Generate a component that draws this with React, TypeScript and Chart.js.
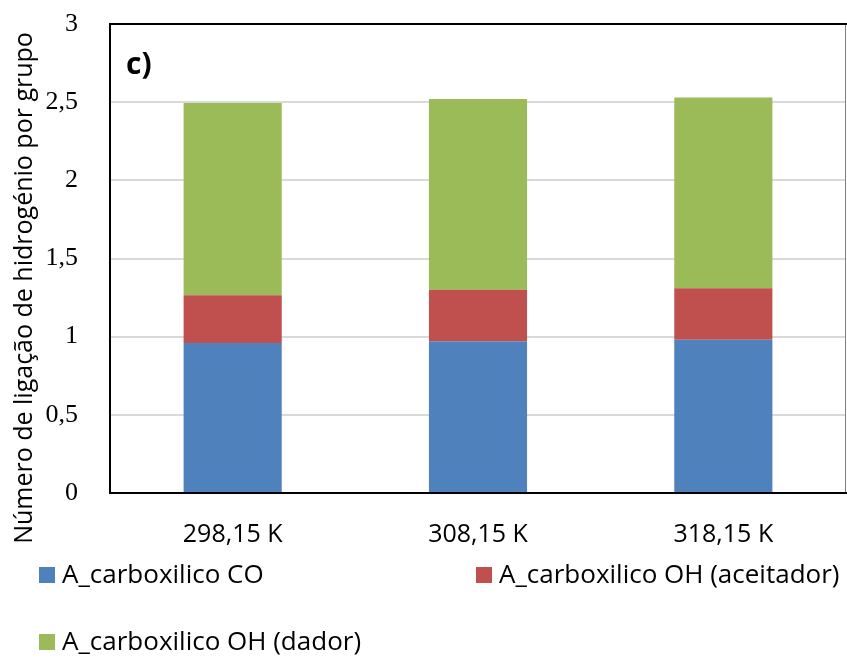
import React, { useEffect, useRef } from "react";
import { Chart, registerables } from "chart.js";

Chart.register(...registerables);

const categories = ["298,15 K", "308,15 K", "318,15 K"];
const seriesNames = [
  "A_carboxilico CO",
  "A_carboxilico OH (aceitador)",
  "A_carboxilico OH (dador)",
];
const coValues = [0.96, 0.97, 0.98];
const ohAceitadorValues = [0.305, 0.33, 0.33];
const ohDadorValues = [1.23, 1.22, 1.22];
const seriesColors = ["#4F81BD", "#C0504D", "#9BBB59"];
const yTickLabels = ["0", "0,5", "1", "1,5", "2", "2,5", "3"];
const yTitle = "Número de ligação de hidrogénio por grupo";
const panelLabel = "c)";

const SANS = "'Open Sans', 'Noto Sans', sans-serif";
const SERIF = "'Liberation Serif', 'DejaVu Serif', serif";

const overlayPlugin = {
  id: "overlay",
  afterDraw(chart: any) {
    const { ctx, chartArea } = chart;
    const { left, right, top, bottom } = chartArea;
    ctx.save();
    // frame
    ctx.lineCap = "square";
    ctx.strokeStyle = "#7f7f7f";
    ctx.lineWidth = 1;
    ctx.beginPath();
    ctx.moveTo(right - 0.5, top);
    ctx.lineTo(right - 0.5, bottom);
    ctx.stroke();
    ctx.strokeStyle = "#000";
    ctx.lineWidth = 2;
    ctx.beginPath();
    ctx.moveTo(left, top);
    ctx.lineTo(right, top);
    ctx.moveTo(left, top);
    ctx.lineTo(left, bottom);
    ctx.lineTo(right, bottom);
    ctx.stroke();

    // panel label
    ctx.fillStyle = "#000";
    ctx.font = `bold 30px ${SANS}`;
    ctx.textAlign = "left";
    ctx.textBaseline = "middle";
    ctx.fillText(panelLabel, left + 16, top + 41);

    // y title
    ctx.save();
    ctx.translate(32, 288);
    ctx.rotate(-Math.PI / 2);
    ctx.font = `25px ${SANS}`;
    ctx.textAlign = "center";
    ctx.textBaseline = "alphabetic";
    ctx.fillText(yTitle, 0, 0);
    ctx.restore();

    // legend
    const items = chart.data.datasets.map((d: any) => ({
      label: d.label,
      color: d.backgroundColor,
    }));
    const pos = [
      { x: 39, y: 575 },
      { x: 476, y: 575 },
      { x: 39, y: 642 },
    ];
    ctx.font = `26px ${SANS}`;
    ctx.textBaseline = "middle";
    ctx.textAlign = "left";
    items.forEach((it: any, i: number) => {
      const p = pos[i];
      ctx.fillStyle = it.color;
      ctx.fillRect(p.x, p.y - 8, 16, 16);
      ctx.fillStyle = "#000";
      ctx.fillText(it.label, p.x + 23, p.y + 1);
    });
    ctx.restore();
  },
};

export default function App() {
  const ref = useRef<HTMLCanvasElement | null>(null);
  useEffect(() => {
    document.body.style.margin = "0";
    const canvas = ref.current!;
    const chart = new Chart(canvas, {
      type: "bar",
      data: {
        labels: categories,
        datasets: [
          { label: seriesNames[0], data: coValues, backgroundColor: seriesColors[0] },
          { label: seriesNames[1], data: ohAceitadorValues, backgroundColor: seriesColors[1] },
          { label: seriesNames[2], data: ohDadorValues, backgroundColor: seriesColors[2] },
        ],
      },
      options: {
        animation: false,
        responsive: false,
        maintainAspectRatio: false,
        layout: { padding: { top: 24, right: 1, bottom: 0, left: 0 } },
        datasets: {
          bar: { barPercentage: 0.4, categoryPercentage: 1, borderWidth: 0 },
        },
        plugins: {
          legend: { display: false },
          tooltip: { enabled: false },
          title: { display: false },
        },
        scales: {
          x: {
            stacked: true,
            grid: { display: false, drawTicks: false },
            border: { display: false },
            ticks: {
              color: "#000",
              padding: 27,
              font: { family: SANS, size: 25, lineHeight: 1.2 },
            },
            afterFit: (s: any) => {
              s.height = 167;
              s.paddingLeft = 0;
              s.paddingRight = 0;
            },
          },
          y: {
            stacked: true,
            min: 0,
            max: 3,
            grid: { color: "#d9d9d9", lineWidth: 2, drawTicks: false },
            border: { display: false },
            ticks: {
              stepSize: 0.5,
              color: "#000",
              padding: 32,
              font: { family: SERIF, size: 26 },
              callback: (_v: any, i: number) => yTickLabels[i],
            },
            afterFit: (s: any) => {
              s.width = 110;
              s.paddingTop = 0;
              s.paddingBottom = 0;
            },
          },
        },
      },
      plugins: [overlayPlugin],
    });
    return () => chart.destroy();
  }, []);
  return (
    <div style={{ width: 847, height: 660, position: "relative", background: "#fff" }}>
      <canvas ref={ref} width={847} height={660} style={{ display: "block" }} />
    </div>
  );
}
